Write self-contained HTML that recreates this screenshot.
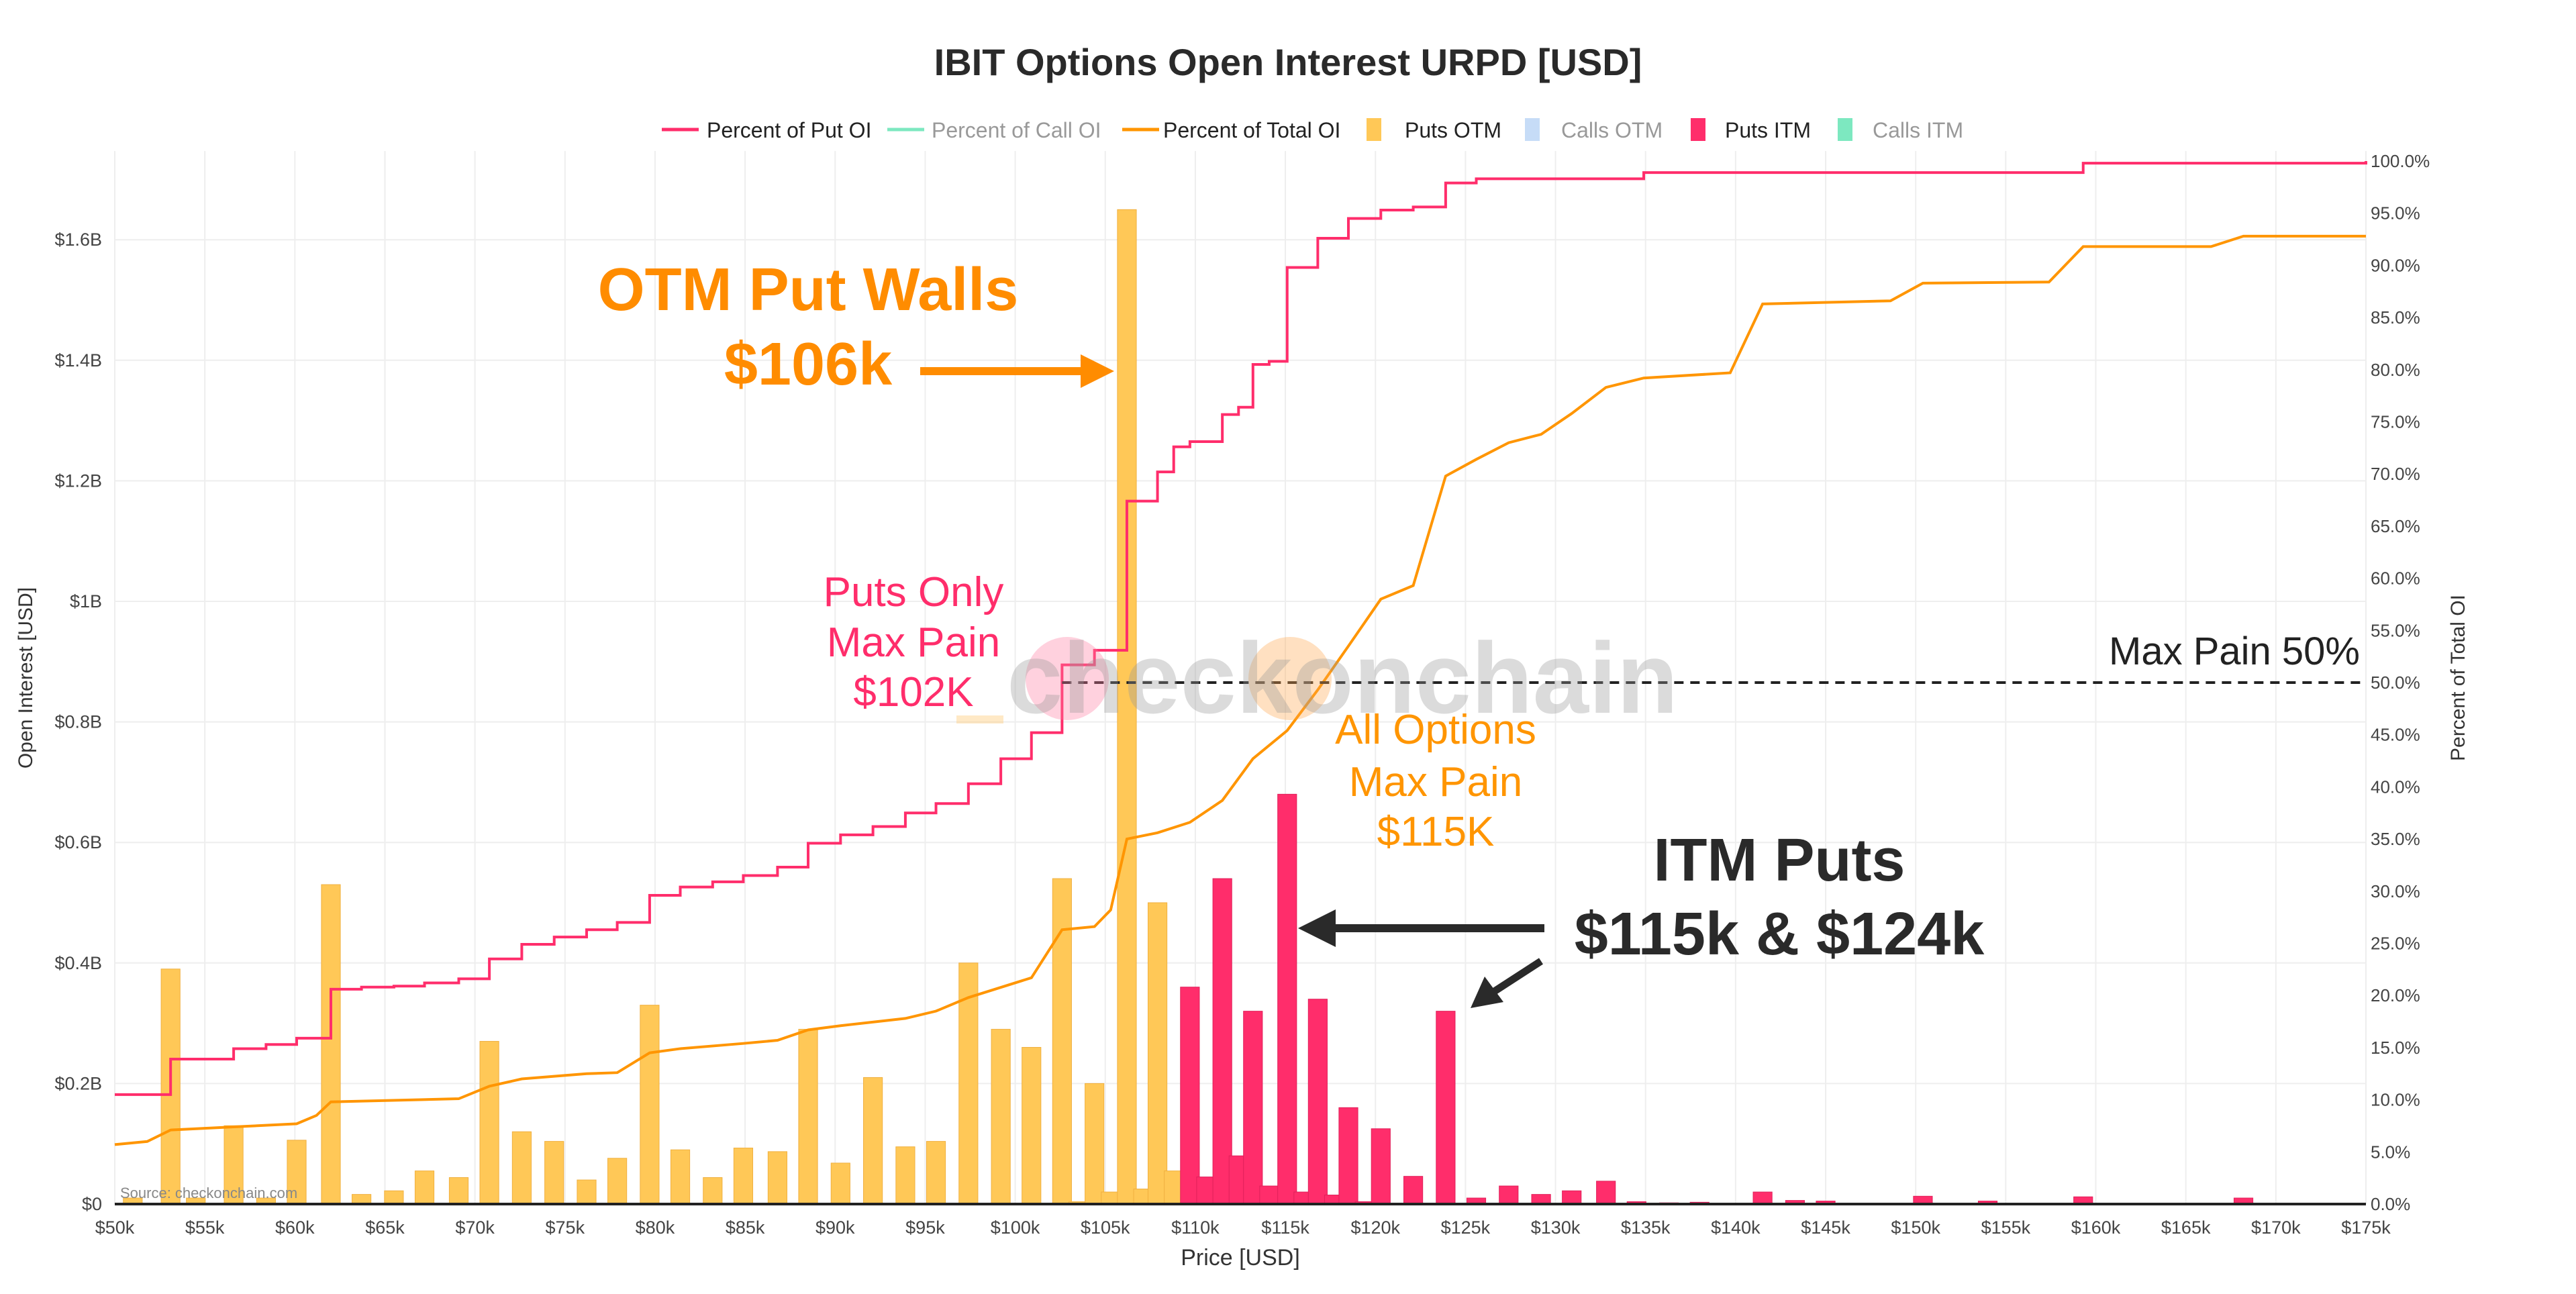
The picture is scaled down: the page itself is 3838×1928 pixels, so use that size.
<!DOCTYPE html>
<html><head><meta charset="utf-8"><style>
html,body{margin:0;padding:0;background:#fff;}
svg{display:block;font-family:"Liberation Sans",sans-serif;}
</style></head><body>
<svg id="chart" width="3838" height="1928" viewBox="0 0 3838 1928" xmlns="http://www.w3.org/2000/svg">
<g id="grid"></g>
<g id="bars"></g>
<g id="lines"></g>
<g id="axes"></g>
<text x="1919" y="112" text-anchor="middle" font-size="56" font-weight="bold" fill="#2a2a2a">IBIT Options Open Interest URPD [USD]</text>
<g id="legend" font-size="32"></g>
<text x="179" y="1785" font-size="22" fill="#888">Source: checkonchain.com</text>
<text x="48" y="1010" font-size="30" fill="#333" text-anchor="middle" transform="rotate(-90 48 1010)">Open Interest [USD]</text>
<text x="3672" y="1010" font-size="30" fill="#333" text-anchor="middle" transform="rotate(-90 3672 1010)">Percent of Total OI</text>
<text x="1848" y="1885" font-size="34" fill="#333" text-anchor="middle">Price [USD]</text>
<g>
<circle cx="1590" cy="1011" r="62" fill="#ff7aa0" opacity="0.35"/>
<circle cx="1922" cy="1011" r="62" fill="#ffa64d" opacity="0.35"/>
<rect x="1425" y="1066" width="70" height="12" fill="#ffc870" opacity="0.4"/>
<text x="1500" y="1062" font-size="150" font-weight="bold" fill="#999" opacity="0.35">checkonchain</text>
</g>
<text x="3516" y="990" font-size="58" fill="#222" text-anchor="end">Max Pain 50%</text>
<g fill="#ff2d6b" font-size="62" text-anchor="middle">
<text x="1361" y="903">Puts Only</text><text x="1361" y="978">Max Pain</text><text x="1361" y="1052">$102K</text></g>
<g fill="#ff9500" font-size="62" text-anchor="middle">
<text x="2139" y="1108">All Options</text><text x="2139" y="1186">Max Pain</text><text x="2139" y="1260">$115K</text></g>
<g fill="#ff8c00" font-size="90" font-weight="bold" text-anchor="middle">
<text x="1204" y="462">OTM Put Walls</text><text x="1204" y="573">$106k</text></g>
<g><line x1="1371" y1="553" x2="1615" y2="553" stroke="#ff8c00" stroke-width="12"/><polygon points="1660,553 1610,528 1610,578" fill="#ff8c00"/></g>
<g fill="#2a2a2a" font-size="90" font-weight="bold" text-anchor="middle">
<text x="2651" y="1312">ITM Puts</text><text x="2651" y="1422">$115k &amp; $124k</text></g>
<g><line x1="2301" y1="1383" x2="1985" y2="1383" stroke="#2a2a2a" stroke-width="12"/><polygon points="1934,1383 1990,1355 1990,1411" fill="#2a2a2a"/>
<line x1="2296" y1="1432" x2="2225" y2="1478" stroke="#2a2a2a" stroke-width="11"/><polygon points="2191,1502 2212,1455 2240,1493" fill="#2a2a2a"/></g>
</svg>
<script>
const tickPricesK=[50,55,60,65,70,75,80,85,90,95,100,105,110,115,120,125,130,135,140,145,150,155,160,165,170,175];
const leftTicks=[0,0.2,0.4,0.6,0.8,1,1.2,1.4,1.6];
const leftTickLabels=["$0","$0.2B","$0.4B","$0.6B","$0.8B","$1B","$1.2B","$1.4B","$1.6B"];
const rightTicks=[0,5,10,15,20,25,30,35,40,45,50,55,60,65,70,75,80,85,90,95,100];
const otmPrice=[51,53.1,54.5,56.6,58.4,60.1,62,63.7,65.5,67.2,69.1,70.8,72.6,74.4,76.2,77.9,79.7,81.4,83.2,84.9,86.8,88.5,90.3,92.1,93.9,95.6,97.4,99.2,100.9,102.6,103.5,104.4,105.3,106.2,107.1,107.9,108.8];
const otmValue=[0.01,0.39,0.01,0.13,0.01,0.106,0.53,0.016,0.022,0.055,0.044,0.27,0.12,0.104,0.04,0.076,0.33,0.09,0.044,0.093,0.087,0.29,0.068,0.21,0.095,0.104,0.40,0.29,0.26,0.54,0.004,0.20,0.02,1.65,0.025,0.50,0.055];
const itmPrice=[109.7,110.6,111.5,112.4,113.2,114.1,115.1,116,116.8,117.7,118.5,119.4,120.3,122.1,123.9,125.6,127.4,129.2,130.9,132.8,134.5,136.3,138,141.5,143.3,145,150.4,154,159.3,168.2];
const itmValue=[0.36,0.045,0.54,0.08,0.32,0.03,0.68,0.02,0.34,0.015,0.16,0.004,0.125,0.046,0.32,0.01,0.03,0.016,0.022,0.038,0.004,0.002,0.003,0.02,0.006,0.005,0.013,0.005,0.012,0.01];
const putPctPrice=[50,53.1,56.6,58.4,60.1,62,63.7,65.5,67.2,69.1,70.8,72.6,74.4,76.2,77.9,79.7,81.4,83.2,84.9,86.8,88.5,90.3,92.1,93.9,95.6,97.4,99.2,100.9,102.6,104.4,106.2,107.9,108.8,109.7,111.5,112.4,113.2,114.1,115.1,116.8,118.5,120.3,122.1,123.9,125.6,134.9,159.3,175];
const putPct=[10.5,13.9,14.9,15.3,15.9,20.6,20.8,20.9,21.2,21.6,23.5,24.9,25.6,26.3,27,29.6,30.4,30.9,31.5,32.3,34.6,35.4,36.2,37.5,38.4,40.3,42.7,45.2,51.7,53.1,67.4,70.2,72.6,73.1,75.7,76.4,80.5,80.8,89.8,92.6,94.5,95.3,95.6,97.9,98.3,98.9,99.8,100];
const totPctPrice=[50,51.8,53.1,56.6,60.1,61.2,62,69.1,70.8,72.6,76.2,77.9,79.7,81.4,84.9,86.8,88.5,90.3,93.9,95.6,97.4,100.9,102.6,104.4,105.3,106.2,107.9,109.7,111.5,113.2,115.1,116.8,118.5,120.3,122.1,123.9,125.6,127.4,129.2,130.9,132.8,134.9,139.7,141.5,148.6,150.4,157.4,159.3,166.4,168.2,175];
const totPct=[5.7,6,7.1,7.4,7.7,8.5,9.8,10.1,11.3,12,12.5,12.6,14.5,14.9,15.4,15.7,16.7,17.1,17.8,18.5,19.8,21.7,26.3,26.6,28.2,35,35.6,36.6,38.7,42.7,45.4,49.3,53.5,58,59.3,69.8,71.4,73,73.8,75.8,78.3,79.2,79.7,86.3,86.6,88.3,88.4,91.8,91.8,92.8,92.8];
const NS="http://www.w3.org/2000/svg";
const X0=171,X1=3525,Y0=1794,PXB=898,PXP=15.54;
const xs=p=>X0+(p-50)*(X1-X0)/125;
const yl=v=>Y0-v*PXB;
const yr=v=>Y0-v*PXP;
function mk(t,a,parent){const e=document.createElementNS(NS,t);for(const k in a)e.setAttribute(k,a[k]);parent.appendChild(e);return e;}
const grid=document.getElementById('grid'),bars=document.getElementById('bars'),lines=document.getElementById('lines'),axes=document.getElementById('axes'),legend=document.getElementById('legend');
tickPricesK.forEach(p=>{
 const g=mk('line',{x1:xs(p),x2:xs(p),y1:225,y2:Y0,stroke:'#eee','stroke-width':2},grid);
 
 
 const t=mk('text',{x:xs(p),y:1838,'font-size':27,fill:'#444','text-anchor':'middle'},axes);
 t.textContent='$'+p+'k';
 
 
});
leftTicks.forEach((v,i)=>{
 const g=mk('line',{x1:X0,x2:X1,y1:yl(v),y2:yl(v),stroke:'#eee','stroke-width':2},grid);
 
 
 const t=mk('text',{x:152,y:yl(v)+9,'font-size':27,fill:'#444','text-anchor':'end'},axes);
 t.textContent=leftTickLabels[i];
 
 
});
rightTicks.forEach(v=>{
 const t=mk('text',{x:3532,y:yr(v)+9,'font-size':26,fill:'#444'},axes);
 t.textContent=v.toFixed(1)+'%';
 
 
});
const BW=(X1-X0)/125*1.05;
otmPrice.forEach((p,i)=>{
 const r=mk('rect',{x:xs(p)-BW/2,y:yl(otmValue[i]),width:BW,height:otmValue[i]*PXB,fill:'#ffc857',stroke:'#f0b040','stroke-width':1},bars);
 
 
});
itmPrice.forEach((p,i)=>{
 const r=mk('rect',{x:xs(p)-BW/2,y:yl(itmValue[i]),width:BW,height:itmValue[i]*PXB,fill:'#ff2d6b',stroke:'#e0205a','stroke-width':1},bars);
 
 
});
const ax=mk('line',{x1:X0,x2:X1,y1:Y0,y2:Y0,stroke:'#222','stroke-width':4},axes);


let d='M'+xs(putPctPrice[0])+','+yr(putPct[0]);
for(let i=1;i<putPctPrice.length;i++){d+=' H'+xs(putPctPrice[i])+' V'+yr(putPct[i]);}
const pl=mk('path',{d:d,fill:'none',stroke:'#ff2d6b','stroke-width':4},lines);


const tl=mk('polyline',{points:totPctPrice.map((p,i)=>xs(p)+','+yr(totPct[i])).join(' '),fill:'none',stroke:'#ff9500','stroke-width':4},lines);


const mp=mk('line',{x1:xs(102.6),x2:X1,y1:yr(50),y2:yr(50),stroke:'#222','stroke-width':4,'stroke-dasharray':'14 10'},lines);


const leg=[['line','#ff2d6b','Percent of Put OI',986,1053,'#222'],['line','#7de8c0','Percent of Call OI',1322,1388,'#999'],['line','#ff9500','Percent of Total OI',1672,1733,'#222'],['box','#ffc857','Puts OTM',2036,2093,'#222'],['box','#c6dcf7','Calls OTM',2272,2326,'#999'],['box','#ff2d6b','Puts ITM',2519,2570,'#222'],['box','#7de8c0','Calls ITM',2738,2790,'#999']];
leg.forEach(l=>{
 const g=mk('g',{},legend);
 
 
 if(l[0]==='line')mk('line',{x1:l[3],x2:l[3]+55,y1:193,y2:193,stroke:l[1],'stroke-width':5},g);
 else mk('rect',{x:l[3],y:176,width:22,height:34,fill:l[1]},g);
 const t=mk('text',{x:l[4],y:205,fill:l[5]},g);t.textContent=l[2];
});
</script>
</body></html>
